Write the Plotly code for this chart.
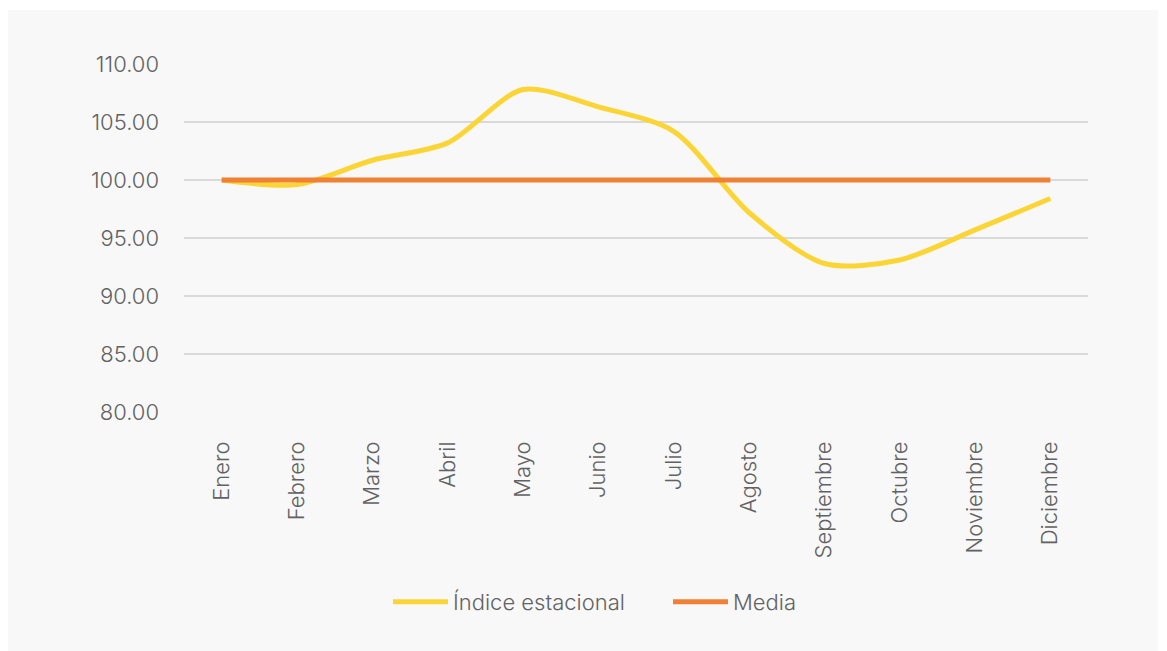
import plotly.graph_objects as go

meses = ["Enero", "Febrero", "Marzo", "Abril", "Mayo", "Junio", "Julio",
         "Agosto", "Septiembre", "Octubre", "Noviembre", "Diciembre"]
indice_estacional = [100.0, 99.6, 101.7, 103.2, 107.8, 106.3, 104.2,
                     97.2, 92.8, 93.1, 95.7, 98.4]
media = [100.0] * 12
y_ticks = [80, 85, 90, 95, 100, 105, 110]

W, H = 1167, 651
L, R, T, B = 184, 1088, 64, 412   # plot-area edges in pixels

fig = go.Figure()
fig.add_trace(go.Scatter(
    x=meses, y=indice_estacional, name="Índice estacional", mode="lines",
    line=dict(color="#FBD536", width=5, shape="spline", smoothing=0.8),
))
fig.add_trace(go.Scatter(
    x=meses, y=media, name="Media", mode="lines",
    line=dict(color="#F08034", width=5),
))

# light panel behind the whole chart
pw, ph = R - L, B - T
fig.add_shape(type="rect", xref="paper", yref="paper", layer="below",
              x0=(8 - L) / pw, x1=(1158 - L) / pw,
              y0=(B - H) / ph, y1=(B - 10) / ph,
              fillcolor="#F8F8F8", line=dict(width=0))

txt = dict(family="Inter, 'Open Sans', sans-serif", size=22,
           color="#626262", weight=300)

fig.update_layout(
    width=W, height=H,
    margin=dict(l=L, r=W - R, t=T, b=H - B, pad=0),
    paper_bgcolor="white", plot_bgcolor="rgba(0,0,0,0)",
    font=txt,
    showlegend=True,
    legend=dict(orientation="h", x=(388 - L) / pw, xanchor="left",
                y=(B - 602) / ph, yanchor="middle",
                font=txt, itemwidth=55, entrywidth=210,
                bgcolor="rgba(0,0,0,0)"),
    xaxis=dict(type="category", range=[-0.5, 11.5], showgrid=False,
               showline=False, zeroline=False, tickangle=-90,
               ticks="", ticklabelstandoff=24, tickfont=txt),
    yaxis=dict(range=[80, 110], tickvals=y_ticks, tickformat=".2f",
               showgrid=True, gridcolor="#D9D9D9", gridwidth=1.5,
               zeroline=False, showline=False, ticks="",
               ticklabelstandoff=24, tickfont=txt),
)

fig.write_html("out.html")
